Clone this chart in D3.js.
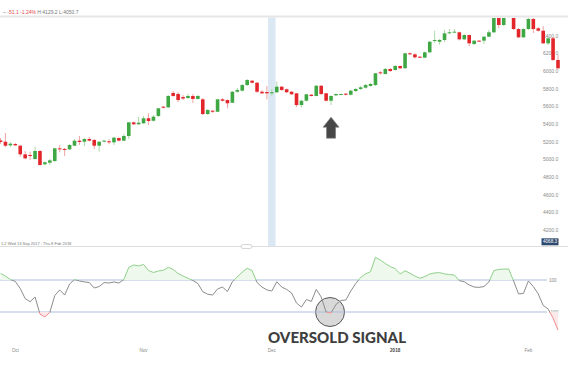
<!DOCTYPE html>
<html>
<head>
<meta charset="utf-8">
<script src="https://cdnjs.cloudflare.com/ajax/libs/d3/7.8.5/d3.min.js"></script>
<style>
  html, body { margin: 0; padding: 0; background: #fff; }
  svg { display: block; font-family: 'Liberation Sans', Arial, sans-serif; }
</style>
</head>
<body>
<div id="chart"></div>
<script>
// Daily candles (index 0 = first visible session)
const candleOpen = [
  5215, 5201, 5160, 5175, 5156, 5058, 5051, 5005, 5096, 4945,
  4963, 4982, 5126, 5119, 5115, 5156, 5213, 5201, 5232, 5221,
  5156, 5206, 5206, 5194, 5243, 5213, 5266, 5421, 5399, 5410,
  5467, 5439, 5493, 5598, 5591, 5754, 5742, 5708, 5697, 5720,
  5686, 5682, 5515, 5553, 5541, 5682, 5674, 5643, 5768, 5780,
  5844, 5893, 5870, 5768, 5765, 5750, 5762, 5825, 5796, 5768,
  5750, 5617, 5666, 5734, 5720, 5836, 5750, 5666, 5727, 5737,
  5746, 5734, 5776, 5799, 5814, 5833, 5844, 5988, 5969, 6026,
  6014, 6060, 6034, 6204, 6192, 6165, 6154, 6215, 6347, 6335,
  6355, 6434, 6442, 6442, 6362, 6411, 6309, 6347, 6347, 6392,
  6442, 6649, 6525, 6615, 6627, 6479, 6385, 6479, 6593, 6487,
  6460, 6317, 6374, 6128
];
const candleClose = [
  5198, 5156, 5179, 5160, 5058, 5013, 5039, 5096, 4937, 4968,
  4990, 5126, 5115, 5111, 5164, 5213, 5198, 5232, 5213, 5156,
  5201, 5213, 5194, 5247, 5213, 5266, 5421, 5399, 5417, 5467,
  5436, 5485, 5580, 5587, 5720, 5720, 5674, 5691, 5720, 5686,
  5720, 5515, 5561, 5541, 5682, 5666, 5637, 5768, 5788, 5844,
  5901, 5870, 5768, 5750, 5750, 5762, 5825, 5788, 5762, 5739,
  5617, 5666, 5739, 5720, 5836, 5742, 5666, 5720, 5742, 5742,
  5734, 5780, 5799, 5818, 5844, 5856, 5977, 5977, 6026, 6003,
  6060, 6034, 6204, 6192, 6158, 6154, 6215, 6335, 6355, 6355,
  6430, 6442, 6449, 6362, 6411, 6317, 6347, 6340, 6392, 6442,
  6649, 6525, 6649, 6627, 6479, 6385, 6479, 6593, 6479, 6460,
  6317, 6374, 6128, 6034
];
const candleHigh = [
  5243, 5300, 5198, 5187, 5164, 5096, 5088, 5145, 5107, 4977,
  5005, 5130, 5164, 5130, 5175, 5232, 5266, 5243, 5255, 5232,
  5209, 5221, 5229, 5255, 5249, 5289, 5425, 5430, 5485, 5493,
  5523, 5504, 5583, 5606, 5731, 5776, 5765, 5731, 5742, 5742,
  5731, 5697, 5572, 5561, 5686, 5697, 5680, 5776, 5810, 5856,
  5912, 5901, 5878, 5788, 5833, 5799, 5882, 5833, 5805, 5776,
  5754, 5674, 5742, 5742, 5844, 5844, 5754, 5725, 5748, 5748,
  5754, 5788, 5810, 5833, 5856, 5867, 5980, 6003, 6037, 6037,
  6071, 6063, 6207, 6213, 6207, 6173, 6224, 6343, 6460, 6366,
  6468, 6479, 6479, 6451, 6422, 6415, 6355, 6355, 6400, 6468,
  6672, 6672, 6661, 6649, 6649, 6491, 6491, 6615, 6604, 6502,
  6513, 6389, 6389, 6185
];
const candleLow = [
  5175, 5141, 5141, 5153, 5031, 5002, 4994, 5000, 4931, 4937,
  4937, 4971, 5081, 5039, 5107, 5153, 5164, 5153, 5204, 5119,
  5088, 5198, 5172, 5164, 5204, 5209, 5232, 5391, 5391, 5402,
  5391, 5430, 5481, 5578, 5583, 5708, 5651, 5674, 5686, 5640,
  5680, 5504, 5504, 5527, 5538, 5657, 5580, 5640, 5754, 5771,
  5833, 5861, 5754, 5742, 5682, 5720, 5754, 5776, 5754, 5731,
  5595, 5589, 5657, 5714, 5714, 5731, 5657, 5617, 5720, 5731,
  5725, 5725, 5765, 5788, 5805, 5827, 5833, 5963, 5963, 5992,
  6009, 6026, 6031, 6185, 6145, 6150, 6150, 6207, 6321, 6301,
  6332, 6422, 6437, 6349, 6355, 6286, 6298, 6332, 6309, 6389,
  6434, 6491, 6513, 6604, 6468, 6374, 6377, 6468, 6434, 6451,
  6309, 6298, 6116, 6026
];

// Oscillator (CCI) value per candle
const cciValues = [
  141, 125, 103, 91, 47, -16, -36, -6, -113, -131,
  -102, 3, 38, 6, 75, 103, 94, 88, 84, 50,
  59, 84, 81, 88, 81, 103, 179, 194, 188, 197,
  159, 147, 156, 161, 179, 166, 141, 125, 111, 97,
  78, 27, 11, 6, 44, 56, 28, 89, 119, 150,
  173, 159, 84, 56, 38, 31, 89, 56, 41, 19,
  -44, -69, -22, -34, 41, -6, -100, -106, -53, -28,
  -25, 31, 78, 116, 138, 152, 242, 225, 203, 184,
  171, 138, 158, 142, 125, 111, 121, 138, 144, 146,
  138, 134, 131, 96, 89, 69, 56, 54, 59, 88,
  159, 166, 168, 169, 94, 13, 16, 94, 59, 13,
  -59, -81, -138, -213
];

const priceTicks = [4200, 4400, 4600, 4800, 5000, 5200, 5400, 5600, 5800, 6000, 6200, 6400];
const cciLevels = [100, -100];
const monthLabels = ['Oct', 'Nov', 'Dec', '2018', 'Feb'];
const monthIndex = [3, 29, 55, 80, 107];
const lastPrice = 4068.3;
const highlightIndex = 55;
const signalIndex = 67;

const W = 568, H = 382;
const RED = '#e3262b', GREEN = '#3fa845';

const svg = d3.select('#chart').append('svg')
    .attr('width', W)
    .attr('height', H);

svg.append('rect').attr('width', W).attr('height', H).attr('fill', '#fff');

const n = candleOpen.length;
const x = d3.scaleLinear()
    .domain([0, n - 1])
    .range([0.5, 558]);

const yPrice = d3.scaleLinear()
    .domain([4200, 6400])
    .range([230, 36]);

const yCci = d3.scaleLinear()
    .domain([-100, 100])
    .range([312, 280]);

const defs = svg.append('defs');
defs.append('clipPath').attr('id', 'price-clip')
  .append('rect').attr('x', 0).attr('y', 18).attr('width', W).attr('height', 228);
defs.append('clipPath').attr('id', 'cci-mid')
  .append('rect').attr('x', 0).attr('y', yCci(100)).attr('width', W).attr('height', yCci(-100) - yCci(100));
defs.append('clipPath').attr('id', 'cci-top')
  .append('rect').attr('x', 0).attr('y', 247).attr('width', W).attr('height', yCci(100) - 247);
defs.append('clipPath').attr('id', 'cci-bot')
  .append('rect').attr('x', 0).attr('y', yCci(-100)).attr('width', W).attr('height', 345 - yCci(-100));

// Header
svg.append('rect')
    .attr('x', 0).attr('y', 15.5).attr('width', W).attr('height', 2)
    .attr('fill', '#e6e6e6');

const head = svg.append('text')
    .attr('x', 3).attr('y', 13.5)
    .style('font-size', '5px');
head.append('tspan').attr('fill', '#888').text('~ ');
head.append('tspan').attr('fill', '#e04848').text('-51.1  -1.24%  ');
head.append('tspan').attr('fill', '#777').text('H:4129.2  L:4050.7');

// Highlight band
svg.append('rect')
    .attr('x', x(highlightIndex) - 3.8)
    .attr('y', 17.5)
    .attr('width', 7.5)
    .attr('height', 229)
    .attr('fill', '#dce7f4');

// Price axis labels (drawn under candles)
svg.append('g').selectAll('text')
    .data(priceTicks)
  .enter().append('text')
    .attr('x', 543)
    .attr('y', d => yPrice(d) + 1.8)
    .attr('fill', '#8a8a8a')
    .style('font-size', '5px')
    .text(d => d.toFixed(1));

// Candles
const candles = svg.append('g').attr('clip-path', 'url(#price-clip)');
const idx = d3.range(n);

candles.selectAll('line.wick')
    .data(idx)
  .enter().append('line')
    .attr('class', 'wick')
    .attr('x1', i => x(i)).attr('x2', i => x(i))
    .attr('y1', i => yPrice(candleHigh[i]))
    .attr('y2', i => yPrice(candleLow[i]))
    .attr('stroke', i => candleClose[i] >= candleOpen[i] ? '#a9d9a6' : '#f2a3a3')
    .attr('stroke-width', 1);

candles.selectAll('rect.body')
    .data(idx)
  .enter().append('rect')
    .attr('class', 'body')
    .attr('x', i => x(i) - 1.8)
    .attr('width', 3.6)
    .attr('y', i => yPrice(Math.max(candleOpen[i], candleClose[i])))
    .attr('height', i => Math.max(1, Math.abs(yPrice(candleOpen[i]) - yPrice(candleClose[i]))))
    .attr('fill', i => candleClose[i] >= candleOpen[i] ? GREEN : RED);

// Last price box
svg.append('rect')
    .attr('x', 541.5).attr('y', yPrice(lastPrice) - 3.3)
    .attr('width', 17).attr('height', 7)
    .attr('fill', '#2e4a6e');
svg.append('text')
    .attr('x', 550).attr('y', yPrice(lastPrice) + 1.6)
    .attr('text-anchor', 'middle')
    .attr('fill', '#fff')
    .style('font-size', '4.6px')
    .text(lastPrice.toFixed(1));

// Panel legend
svg.append('text')
    .attr('x', 1).attr('y', 244.5)
    .attr('fill', '#777')
    .style('font-size', '4px')
    .text('1.2   Wed 13 Sep 2017 - Thu 8 Feb 2018');

// Panel separator
svg.append('line')
    .attr('x1', 0).attr('x2', W)
    .attr('y1', 246.5).attr('y2', 246.5)
    .attr('stroke', '#dedede').attr('stroke-width', 1);
svg.append('rect')
    .attr('x', 241).attr('y', 244.5).attr('width', 11).attr('height', 4).attr('rx', 2)
    .attr('fill', '#fff').attr('stroke', '#bbb').attr('stroke-width', 0.6);

// Up arrow annotation
const ax = x(signalIndex), ay = yPrice(5480);
svg.append('path')
    .attr('d', `M${ax},${ay} L${ax + 8},${ay + 10} L${ax + 4.5},${ay + 10} L${ax + 4.5},${ay + 21}
                L${ax - 4.5},${ay + 21} L${ax - 4.5},${ay + 10} L${ax - 8},${ay + 10} Z`)
    .attr('fill', '#474747')
    .attr('stroke', '#777')
    .attr('stroke-width', 0.6);

// Oversold circle (behind lines)
svg.append('circle')
    .attr('cx', x(signalIndex) - 1)
    .attr('cy', yCci(-100))
    .attr('r', 14.5)
    .attr('fill', '#d9d9d9')
    .attr('stroke', '#555')
    .attr('stroke-width', 1);

// Oscillator reference lines
svg.append('g').selectAll('line')
    .data(cciLevels)
  .enter().append('line')
    .attr('x1', 0).attr('x2', 547)
    .attr('y1', d => yCci(d)).attr('y2', d => yCci(d))
    .attr('stroke', '#a8c0dc').attr('stroke-width', 1);

svg.append('g').selectAll('text')
    .data(cciLevels)
  .enter().append('text')
    .attr('x', 549)
    .attr('y', d => yCci(d) + 1.7)
    .attr('fill', '#888')
    .style('font-size', '4.6px')
    .text(d => d);

// Oscillator fills and line
const line = d3.line()
    .x((d, i) => x(i))
    .y(d => yCci(d));

svg.append('path')
    .datum(cciValues)
    .attr('clip-path', 'url(#cci-top)')
    .attr('d', d3.area().x((d, i) => x(i)).y0(yCci(100)).y1(d => yCci(d)))
    .attr('fill', '#eef8ec');

svg.append('path')
    .datum(cciValues)
    .attr('clip-path', 'url(#cci-bot)')
    .attr('d', d3.area().x((d, i) => x(i)).y0(yCci(-100)).y1(d => yCci(d)))
    .attr('fill', '#fde9ea');

[['cci-mid', '#8c8c8c'], ['cci-top', '#8fd18a'], ['cci-bot', '#f08a8c']].forEach(item => {
    svg.append('path')
        .datum(cciValues)
        .attr('clip-path', `url(#${item[0]})`)
        .attr('d', line)
        .attr('fill', 'none')
        .attr('stroke', item[1])
        .attr('stroke-width', 1);
});

// Annotation text
svg.append('text')
    .attr('x', 268).attr('y', 343)
    .attr('textLength', 138)
    .attr('lengthAdjust', 'spacingAndGlyphs')
    .attr('fill', '#3e3e3e')
    .style('font-family', 'Lato, sans-serif')
    .style('font-weight', '900')
    .style('font-size', '15.5px')
    .text('OVERSOLD SIGNAL');

// Time axis
svg.append('g').selectAll('text')
    .data(monthLabels)
  .enter().append('text')
    .attr('x', (d, i) => x(monthIndex[i]))
    .attr('y', 351.5)
    .attr('text-anchor', 'middle')
    .attr('fill', d => d === '2018' ? '#444' : '#8a8a8a')
    .style('font-weight', d => d === '2018' ? 'bold' : 'normal')
    .style('font-size', '4.6px')
    .text(d => d);
</script>
</body>
</html>
